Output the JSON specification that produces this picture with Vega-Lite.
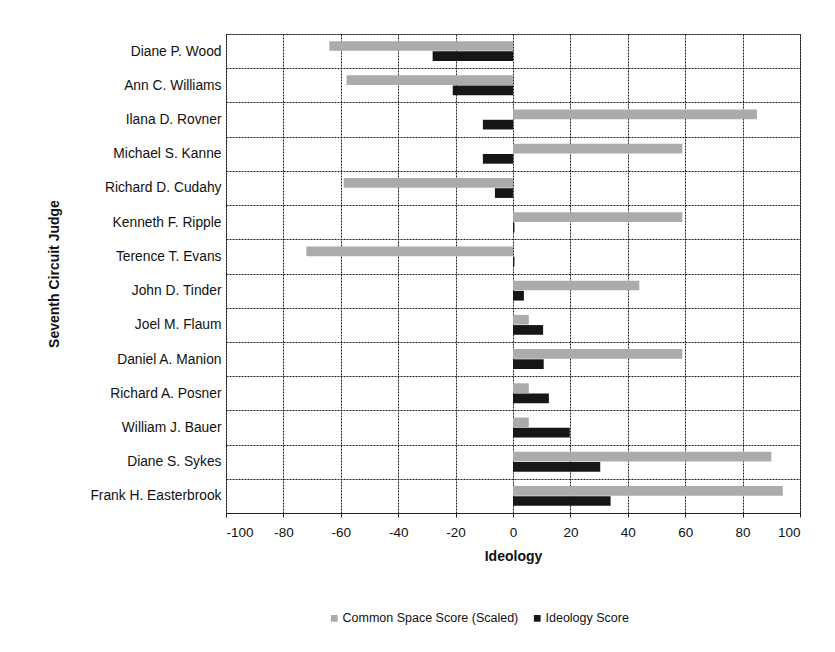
{
  "$schema": "https://vega.github.io/schema/vega-lite/v6.json",
  "width": 574,
  "height": 479,
  "autosize": {"type": "none"},
  "padding": {"left": 226, "top": 34, "right": 35, "bottom": 139},
  "background": "white",
  "config": {
    "view": {"stroke": "#222222", "strokeDash": [2, 1], "strokeWidth": 1},
    "font": "Liberation Sans"
  },
  "data": {
    "values": [
      {"judge": "Diane P. Wood", "series": "Common Space Score (Scaled)", "value": -64},
      {"judge": "Diane P. Wood", "series": "Ideology Score", "value": -28},
      {"judge": "Ann C. Williams", "series": "Common Space Score (Scaled)", "value": -58},
      {"judge": "Ann C. Williams", "series": "Ideology Score", "value": -21},
      {"judge": "Ilana D. Rovner", "series": "Common Space Score (Scaled)", "value": 85},
      {"judge": "Ilana D. Rovner", "series": "Ideology Score", "value": -10.5},
      {"judge": "Michael S. Kanne", "series": "Common Space Score (Scaled)", "value": 59},
      {"judge": "Michael S. Kanne", "series": "Ideology Score", "value": -10.5},
      {"judge": "Richard D. Cudahy", "series": "Common Space Score (Scaled)", "value": -59},
      {"judge": "Richard D. Cudahy", "series": "Ideology Score", "value": -6.3},
      {"judge": "Kenneth F. Ripple", "series": "Common Space Score (Scaled)", "value": 59},
      {"judge": "Kenneth F. Ripple", "series": "Ideology Score", "value": 0.5},
      {"judge": "Terence T. Evans", "series": "Common Space Score (Scaled)", "value": -72},
      {"judge": "Terence T. Evans", "series": "Ideology Score", "value": 0.5},
      {"judge": "John D. Tinder", "series": "Common Space Score (Scaled)", "value": 44},
      {"judge": "John D. Tinder", "series": "Ideology Score", "value": 3.8},
      {"judge": "Joel M. Flaum", "series": "Common Space Score (Scaled)", "value": 5.5},
      {"judge": "Joel M. Flaum", "series": "Ideology Score", "value": 10.5},
      {"judge": "Daniel A. Manion", "series": "Common Space Score (Scaled)", "value": 59},
      {"judge": "Daniel A. Manion", "series": "Ideology Score", "value": 10.7},
      {"judge": "Richard A. Posner", "series": "Common Space Score (Scaled)", "value": 5.5},
      {"judge": "Richard A. Posner", "series": "Ideology Score", "value": 12.5},
      {"judge": "William J. Bauer", "series": "Common Space Score (Scaled)", "value": 5.5},
      {"judge": "William J. Bauer", "series": "Ideology Score", "value": 19.8},
      {"judge": "Diane S. Sykes", "series": "Common Space Score (Scaled)", "value": 90},
      {"judge": "Diane S. Sykes", "series": "Ideology Score", "value": 30.4},
      {"judge": "Frank H. Easterbrook", "series": "Common Space Score (Scaled)", "value": 94},
      {"judge": "Frank H. Easterbrook", "series": "Ideology Score", "value": 34}
    ]
  },
  "mark": {"type": "bar"},
  "encoding": {
    "y": {
      "field": "judge",
      "type": "nominal",
      "sort": ["Diane P. Wood", "Ann C. Williams", "Ilana D. Rovner", "Michael S. Kanne", "Richard D. Cudahy", "Kenneth F. Ripple", "Terence T. Evans", "John D. Tinder", "Joel M. Flaum", "Daniel A. Manion", "Richard A. Posner", "William J. Bauer", "Diane S. Sykes", "Frank H. Easterbrook"],
      "scale": {"paddingInner": 0, "paddingOuter": 0},
      "axis": {
        "title": "Seventh Circuit Judge",
        "tickBand": "extent",
        "grid": true,
        "gridColor": "#222222",
        "gridDash": [2, 1],
        "gridOpacity": 1,
        "domain": false,
        "ticks": false,
        "labelFontSize": 13.8,
        "labelColor": "#111111",
        "labelPadding": 5,
        "labelLimit": 300,
        "titleFontSize": 14,
        "titleFontWeight": "bold",
        "titleColor": "#111111",
        "titleX": -172,
        "titleY": 239.5,
        "titleAngle": -90,
        "titleAlign": "center",
        "titleBaseline": "middle"
      }
    },
    "yOffset": {
      "field": "series",
      "type": "nominal",
      "sort": ["Common Space Score (Scaled)", "Ideology Score"],
      "scale": {"paddingInner": 0.05, "paddingOuter": 0.7}
    },
    "x": {
      "field": "value",
      "type": "quantitative",
      "scale": {"domain": [-100, 100], "nice": false},
      "axis": {
        "values": [-100, -80, -60, -40, -20, 0, 20, 40, 60, 80, 100],
        "labelExpr": "'' + datum.value",
        "title": "Ideology",
        "grid": true,
        "gridColor": "#222222",
        "gridDash": [2, 1],
        "gridOpacity": 1,
        "domainColor": "#222222",
        "tickColor": "#222222",
        "tickSize": 4,
        "labelFontSize": 13.5,
        "labelColor": "#111111",
        "labelPadding": 8,
        "titleFontSize": 14,
        "titleFontWeight": "bold",
        "titleColor": "#111111",
        "titlePadding": 11
      }
    },
    "color": {
      "field": "series",
      "type": "nominal",
      "scale": {"domain": ["Common Space Score (Scaled)", "Ideology Score"], "range": ["#ababab", "#161616"]},
      "legend": {
        "orient": "none",
        "legendX": 102,
        "legendY": 578,
        "direction": "horizontal",
        "title": null,
        "symbolType": "square",
        "symbolSize": 45,
        "symbolStrokeWidth": 0,
        "labelFontSize": 12.5,
        "labelColor": "#111111",
        "labelOffset": 2,
        "labelLimit": 400,
        "columnPadding": 12
      }
    }
  }
}
